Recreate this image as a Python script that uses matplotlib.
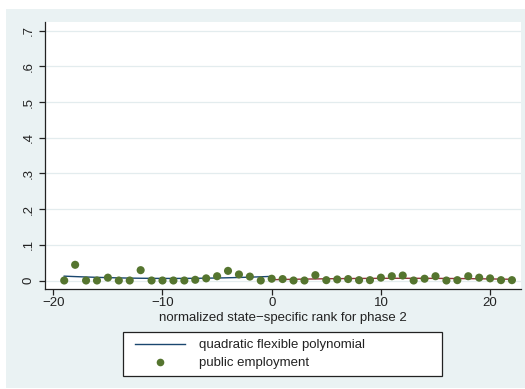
"""Public employment share by normalized rank, with quadratic fits on
each side of the phase 2 threshold."""

import numpy as np
import matplotlib
matplotlib.use("Agg")
import matplotlib.pyplot as plt
from matplotlib.lines import Line2D
from matplotlib.patches import Rectangle
from matplotlib.transforms import Affine2D

plt.rcParams["font.family"] = ["Liberation Sans", "DejaVu Sans"]

# bin means of public employment by normalized rank
rank = np.arange(-19, 23)
public_emp = [0.000, 0.044, 0.000, 0.000, 0.008, 0.000, 0.000, 0.029,
              0.000, 0.000, 0.000, 0.000, 0.002, 0.006, 0.012, 0.027,
              0.017, 0.011, 0.000, 0.005, 0.004, 0.000, 0.000, 0.015,
              0.001, 0.003, 0.004, 0.001, 0.001, 0.008, 0.012, 0.014,
              0.000, 0.005, 0.012, 0.000, 0.001, 0.012, 0.008, 0.006,
              0.001, 0.001]
yticks = [0, .1, .2, .3, .4, .5, .6, .7]
ytick_labels = ["0", ".1", ".2", ".3", ".4", ".5", ".6", ".7"]
xticks = [-20, -10, 0, 10, 20]
xtick_labels = ["\u221220", "\u221210", "0", "10", "20"]
legend_labels = ["quadratic flexible polynomial", "public employment"]

BG = "#EAF2F3"
NAVY = "#1A476F"
MAROON = "#90353B"
GREEN = "#55752F"
INK = "#222222"
FS = 9.5
W, H = 525, 389

public_emp = np.array(public_emp)
left = rank <= 0
right = rank >= 0
fit_l = np.polyval(np.polyfit(rank[left], public_emp[left], 2), rank[left])
fit_r = np.polyval(np.polyfit(rank[right], public_emp[right], 2), rank[right])

fig = plt.figure(figsize=(W / 100, H / 100), dpi=100, facecolor="white")
# pixel coordinates measured from the top-left corner
px = Affine2D().scale(1 / W, -1 / H).translate(0, 1) + fig.transFigure

fig.add_artist(Rectangle((6, 9), W - 6, H - 10, transform=px,
                         facecolor=BG, edgecolor="none", zorder=-10))
ax = fig.add_axes([45 / W, 1 - 289 / H, 476 / W, 267 / H])
ax.set_facecolor("white")
for side in ("top", "right"):
    ax.spines[side].set_visible(False)
for side in ("left", "bottom"):
    ax.spines[side].set_color(INK)
    ax.spines[side].set_linewidth(0.9)

ax.grid(axis="y", color="#E3ECEE", lw=0.9)
ax.set_axisbelow(True)

ax.plot(rank[left], fit_l, color=NAVY, lw=1.0, zorder=2)
ax.plot(rank[right], fit_r, color=MAROON, lw=1.0, zorder=2)
ax.scatter(rank, public_emp, s=34, color=GREEN, edgecolors="none", zorder=3)

ax.set_xlim(-20.76, 22.83)
ax.set_ylim(-0.0238, 0.7243)
ax.set_xticks(xticks, xtick_labels)
ax.set_yticks(yticks, ytick_labels)
ax.tick_params(axis="both", colors=INK, labelsize=FS, length=4.3, width=0.9,
               direction="out")
ax.tick_params(axis="x", pad=1.5)
ax.tick_params(axis="y", labelrotation=90, pad=3)
for lab in ax.get_yticklabels():
    lab.set_verticalalignment("center")
ax.set_xlabel("normalized state\u2212specific rank for phase 2",
              fontsize=FS, color=INK, labelpad=2)

# legend box below the axis title
fig.add_artist(Rectangle((123, 332), 319, 44, transform=px, facecolor="white",
                         edgecolor=INK, lw=0.9))
fig.add_artist(Line2D([135, 185], [344.5, 344.5], transform=px, color=NAVY,
                      lw=1.0))
fig.add_artist(Line2D([160], [362.5], transform=px, color=GREEN, marker="o",
                      ls="none", markersize=5.5, markeredgewidth=0))
for y, label in zip([345, 363], legend_labels):
    fig.text(199, y, label, transform=px, fontsize=FS, color=INK,
             va="center", ha="left")

fig.savefig("out.png", dpi=100, facecolor="white")
